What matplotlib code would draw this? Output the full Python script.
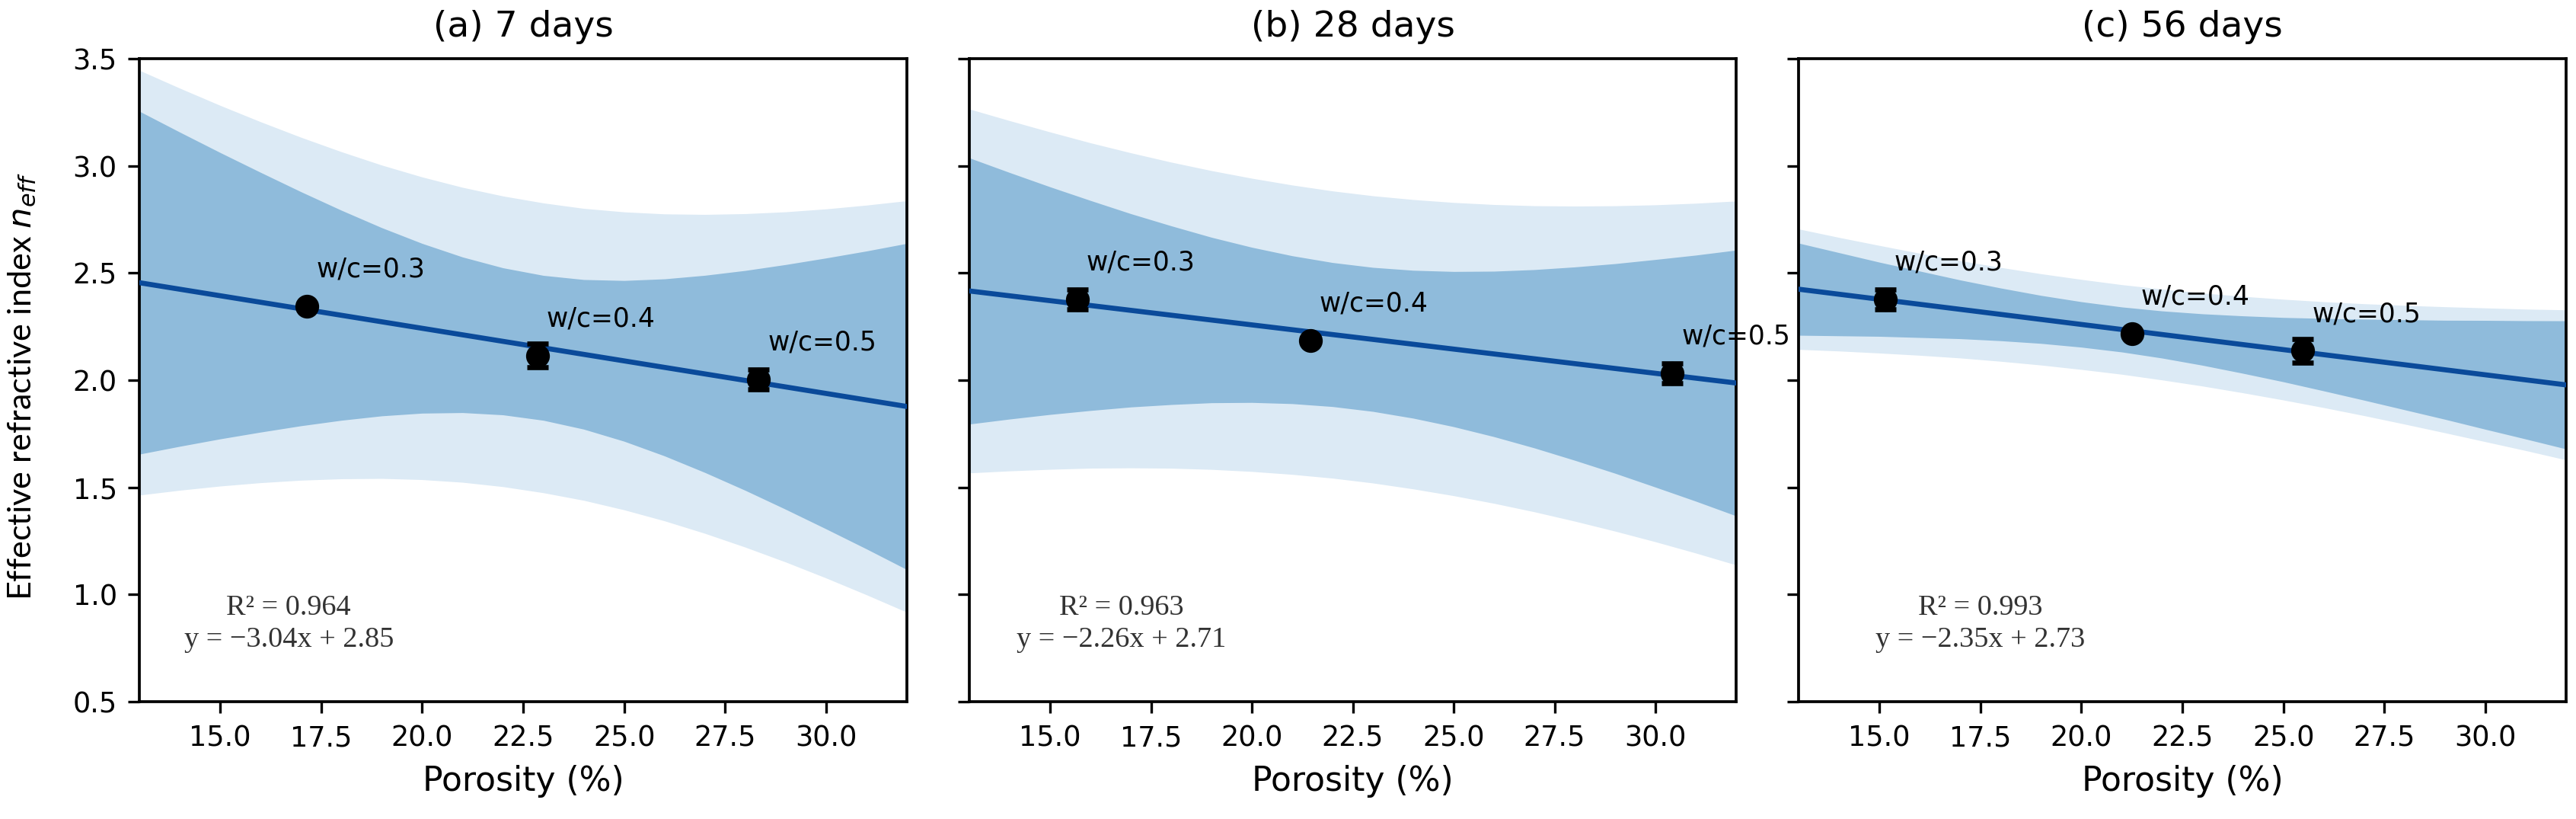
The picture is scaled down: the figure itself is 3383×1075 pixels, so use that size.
import matplotlib
matplotlib.use("Agg")
import matplotlib.pyplot as plt
import numpy as np

# ---------------- data ----------------
titles = ["(a) 7 days", "(b) 28 days", "(c) 56 days"]
wc_labels = ["w/c=0.3", "w/c=0.4", "w/c=0.5"]

por_a = [17.15, 22.85, 28.33]
n_a = [2.346, 2.115, 2.004]
err_a = [0.01, 0.056, 0.046]

por_b = [15.67, 21.45, 30.42]
n_b = [2.377, 2.186, 2.033]
err_b = [0.046, 0.01, 0.046]

por_c = [15.14, 21.25, 25.48]
n_c = [2.377, 2.217, 2.137]
err_c = [0.045, 0.01, 0.056]

# fitted equations shown in the chart (x = porosity fraction)
slopes = [-3.04, -2.26, -2.35]
intercepts = [2.85, 2.71, 2.73]
r2_values = ["0.964", "0.963", "0.993"]

# porosity grid on which the band half-widths were read
band_x = [13, 14, 15, 16, 17, 18, 19, 20, 21, 22, 23, 24, 25, 26, 27, 28, 29, 30, 31, 32]

# half-widths of the inner (confidence) and outer (prediction) bands
ci_a = [0.800, 0.733, 0.668, 0.606, 0.546, 0.490, 0.439, 0.396, 0.363, 0.343,
        0.338, 0.349, 0.375, 0.413, 0.460, 0.513, 0.571, 0.632, 0.695, 0.761]
pi_a = [0.991, 0.938, 0.888, 0.842, 0.800, 0.763, 0.731, 0.706, 0.688, 0.678,
        0.676, 0.681, 0.695, 0.716, 0.744, 0.778, 0.817, 0.861, 0.909, 0.960]

ci_b = [0.621, 0.575, 0.531, 0.490, 0.451, 0.417, 0.386, 0.362, 0.345, 0.336,
        0.336, 0.345, 0.362, 0.386, 0.416, 0.451, 0.489, 0.531, 0.574, 0.620]
pi_b = [0.849, 0.817, 0.787, 0.759, 0.735, 0.714, 0.697, 0.684, 0.675, 0.670,
        0.670, 0.675, 0.684, 0.697, 0.714, 0.735, 0.759, 0.786, 0.816, 0.849]

ci_c = [0.215, 0.194, 0.173, 0.155, 0.137, 0.123, 0.112, 0.106, 0.105, 0.110,
        0.120, 0.134, 0.150, 0.169, 0.189, 0.210, 0.231, 0.254, 0.276, 0.299]
pi_c = [0.281, 0.265, 0.251, 0.238, 0.227, 0.219, 0.213, 0.210, 0.209, 0.212,
        0.217, 0.225, 0.235, 0.247, 0.261, 0.277, 0.294, 0.312, 0.330, 0.350]

x_ticks = [15.0, 17.5, 20.0, 22.5, 25.0, 27.5, 30.0]
y_ticks = [0.5, 1.0, 1.5, 2.0, 2.5, 3.0, 3.5]

panels = [
    (por_a, n_a, err_a, ci_a, pi_a),
    (por_b, n_b, err_b, ci_b, pi_b),
    (por_c, n_c, err_c, ci_c, pi_c),
]

# ---------------- style ----------------
LIGHT = "#dceaf5"
DARK = "#8fbbdb"
LINE = "#0a4a9a"

fig = plt.figure(figsize=(3383 / 300, 1075 / 300), dpi=300)
lefts = [183 / 3383, 1273 / 3383, 2362 / 3383]
widths = [1008 / 3383, 1007 / 3383, 1008 / 3383]
bottom = 1 - 921 / 1075
height = 844 / 1075

axes = []
for i, (px, py, pe, ci, pi) in enumerate(panels):
    ax = fig.add_axes([lefts[i], bottom, widths[i], height],
                      sharey=axes[0] if axes else None)
    axes.append(ax)
    bx = np.array(band_x, dtype=float)
    fit = intercepts[i] + slopes[i] * bx / 100.0
    ci_arr = np.array(ci)
    pi_arr = np.array(pi)
    ax.fill_between(bx, fit - pi_arr, fit + pi_arr, color=LIGHT, lw=0, zorder=1)
    ax.fill_between(bx, fit - ci_arr, fit + ci_arr, color=DARK, lw=0, zorder=2)
    ax.plot(bx, fit, color=LINE, lw=1.6, zorder=3)
    ax.errorbar(px, py, yerr=pe, fmt="o", color="black", ms=6.5,
                elinewidth=1.6, capsize=3.4, capthick=1.6, zorder=4)
    for xv, yv, lab in zip(px, py, wc_labels):
        ax.text(xv + 0.23, yv + 0.135, lab, fontsize=8.3, ha="left",
                va="baseline", color="black", zorder=5)
    # R^2 and equation
    sign = "\u2212" if slopes[i] < 0 else ""
    eq = f"R\u00b2 = {r2_values[i]}\ny = {sign}{abs(slopes[i]):.2f}x + {intercepts[i]:.2f}"
    tx = [16.7, 16.77, 17.5][i]
    ax.text(tx, 0.755, eq, fontsize=9.2, family="Liberation Serif",
            ha="center", va="baseline", multialignment="center",
            color="#333333", linespacing=1.3, zorder=5)
    ax.set_xlim(13, 32)
    ax.set_ylim(0.5, 3.5)
    ax.set_xticks(x_ticks)
    ax.set_xticklabels([f"{t:.1f}" for t in x_ticks])
    ax.set_yticks(y_ticks)
    ax.tick_params(labelsize=8.8, length=3.5, width=0.8)
    ax.set_xlabel("Porosity (%)", fontsize=10.6, labelpad=4)
    ax.set_title(titles[i], fontsize=11.3, pad=7)
    for s in ax.spines.values():
        s.set_linewidth(0.9)
    if i > 0:
        plt.setp(ax.get_yticklabels(), visible=False)

axes[0].set_yticklabels([f"{t:.1f}" for t in y_ticks])
axes[0].set_ylabel(r"Effective refractive index $n_{eff}$", fontsize=10.4,
                   family="Lato", labelpad=8)
axes[0].yaxis.set_label_coords(-0.132, 0.49)

fig.savefig("out.png", dpi=300)
